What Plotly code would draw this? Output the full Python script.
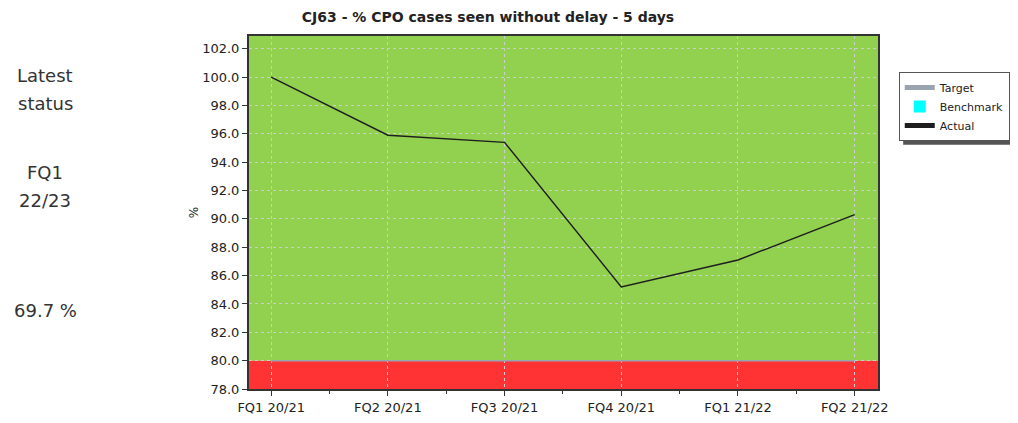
import plotly.graph_objects as go

categories = ["FQ1 20/21", "FQ2 20/21", "FQ3 20/21", "FQ4 20/21", "FQ1 21/22", "FQ2 21/22"]
actual = [100.0, 95.9, 95.4, 85.2, 87.1, 90.3]
target_value = 80.0
axis_min = 78.0
axis_max = 102.9
y_ticks = [78, 80, 82, 84, 86, 88, 90, 92, 94, 96, 98, 100, 102]
status_lines = ["Latest", "status", "FQ1", "22/23", "69.7 %"]
status_y = [0.8895, 0.810, 0.612, 0.535, 0.221]

xs = list(range(len(categories)))
FONT = "Tahoma, Verdana, DejaVu Sans, sans-serif"

fig = go.Figure()
fig.add_trace(go.Scatter(x=xs, y=[target_value] * len(xs), mode="lines", name="Target",
                         line=dict(color="#9aa3b0", width=1.5)))
fig.add_trace(go.Scatter(x=[None], y=[None], mode="markers", name="Benchmark",
                         marker=dict(symbol="square", color="#00ffff", size=12)))
fig.add_trace(go.Scatter(x=xs, y=actual, mode="lines", name="Actual",
                         line=dict(color="#1e1e1e", width=1.4)))

# bands
fig.add_shape(type="rect", xref="paper", yref="y", x0=0, x1=1, y0=target_value, y1=axis_max,
              fillcolor="#92d050", line=dict(width=0), layer="below")
fig.add_shape(type="rect", xref="paper", yref="y", x0=0, x1=1, y0=axis_min, y1=target_value,
              fillcolor="#ff3333", line=dict(width=0), layer="below")

# legend shadow
fig.add_shape(type="rect", xref="paper", yref="paper", x0=1.040, x1=1.218, y0=0.692, y1=0.887,
              fillcolor="#555555", line=dict(width=0), layer="below")

for txt, yy in zip(status_lines, status_y):
    fig.add_annotation(text=txt, xref="paper", yref="paper", x=-0.3243, y=yy,
                       xanchor="center", yanchor="middle",
                       showarrow=False, font=dict(family=FONT, size=18, color="#333333"))

fig.update_layout(
    width=1010, height=415,
    margin=dict(l=241, r=140, t=28, b=34, autoexpand=False),
    paper_bgcolor="white", plot_bgcolor="rgba(0,0,0,0)",
    title=dict(text="<b>CJ63 - % CPO cases seen without delay - 5 days</b>",
               x=0.38, xref="paper", xanchor="center", y=0.978, yanchor="middle",
               font=dict(family=FONT, size=14, color="#222222")),
    showlegend=True,
    legend=dict(x=1.033, y=0.898, xanchor="left", yanchor="top",
                bgcolor="white", bordercolor="#555555", borderwidth=1,
                font=dict(family=FONT, size=11, color="#222222"),
                tracegroupgap=0, itemsizing="constant", itemwidth=30),
    xaxis=dict(range=[-0.19, 5.2], tickvals=xs, ticktext=categories,
               showgrid=True, gridcolor="#cccccc", griddash="dot", gridwidth=1,
               zeroline=False, showline=True, linecolor="#333333", linewidth=2, mirror=True,
               ticks="outside", ticklen=5, tickcolor="#333333",
               minor=dict(tick0=0.5, dtick=1, ticks="outside", ticklen=3, tickcolor="#333333"),
               tickfont=dict(family=FONT, size=13, color="#222222")),
    yaxis=dict(range=[axis_min, axis_max], tickvals=y_ticks, tickformat=".1f",
               showgrid=True, gridcolor="#cccccc", griddash="dot", gridwidth=1,
               zeroline=False, showline=True, linecolor="#333333", linewidth=2, mirror=True,
               ticks="outside", ticklen=5, tickcolor="#333333",
               title=dict(text="%", font=dict(family=FONT, size=12, color="#222222"), standoff=1),
               tickfont=dict(family=FONT, size=13, color="#222222")),
)

fig.write_html("out.html")
